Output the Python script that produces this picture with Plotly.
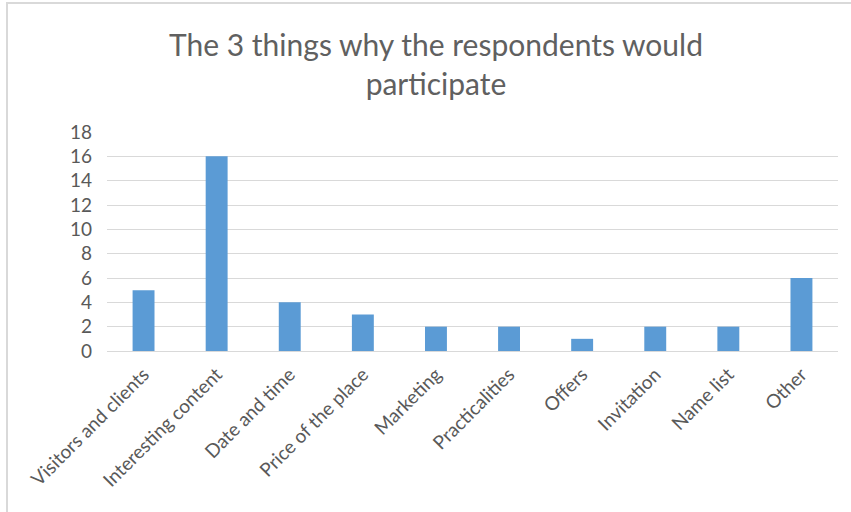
import plotly.graph_objects as go

categories = ["Visitors and clients", "Interesting content", "Date and time",
              "Price of the place", "Marketing", "Practicalities", "Offers",
              "Invitation", "Name list", "Other"]
values = [5, 16, 4, 3, 2, 2, 1, 2, 2, 6]
y_ticks = [0, 2, 4, 6, 8, 10, 12, 14, 16, 18]

FONT = "Lato"
TXT = "#595959"
GRID = "#D9D9D9"

fig = go.Figure(go.Bar(
    x=categories, y=values,
    marker=dict(color="#5B9BD5", line=dict(width=0)),
    width=0.3,
))

L, R, T, B = 107, 13, 132, 161
W, H = 851, 512
pw = W - L - R
ph = H - T - B

fig.update_layout(
    width=W, height=H,
    margin=dict(l=L, r=R, t=T, b=B, pad=0),
    paper_bgcolor="white", plot_bgcolor="white",
    showlegend=False,
    title=dict(
        text="The 3 things why the respondents would<br>participate",
        x=436 / W, xanchor="center", xref="container",
        y=1 - 56 / H, yanchor="middle", yref="container",
        font=dict(family=FONT, size=30, color="#606060"),
    ),
    font=dict(family=FONT, color=TXT),
    bargap=0.7,
    xaxis=dict(
        tickangle=-45,
        tickfont=dict(family=FONT, size=19, color=TXT),
        showgrid=False, showline=True, linecolor=GRID, linewidth=1,
        ticks="", ticklabelstandoff=4,
    ),
    yaxis=dict(
        range=[0, 18], tickvals=y_ticks,
        tickfont=dict(family=FONT, size=19, color=TXT),
        showgrid=True, gridcolor=GRID, gridwidth=1,
        zeroline=True, zerolinecolor=GRID, zerolinewidth=1,
        showline=False, ticks="", ticklabelstandoff=14,
    ),
    shapes=[dict(
        type="rect", xref="paper", yref="paper",
        x0=(7 - L) / pw, x1=(W + 20 - L) / pw,
        y0=(H - B - (H + 20)) / ph, y1=(H - B - 3) / ph,
        line=dict(color=GRID, width=2), fillcolor="rgba(0,0,0,0)",
        layer="above",
    )],
)

fig.write_html("out.html")
